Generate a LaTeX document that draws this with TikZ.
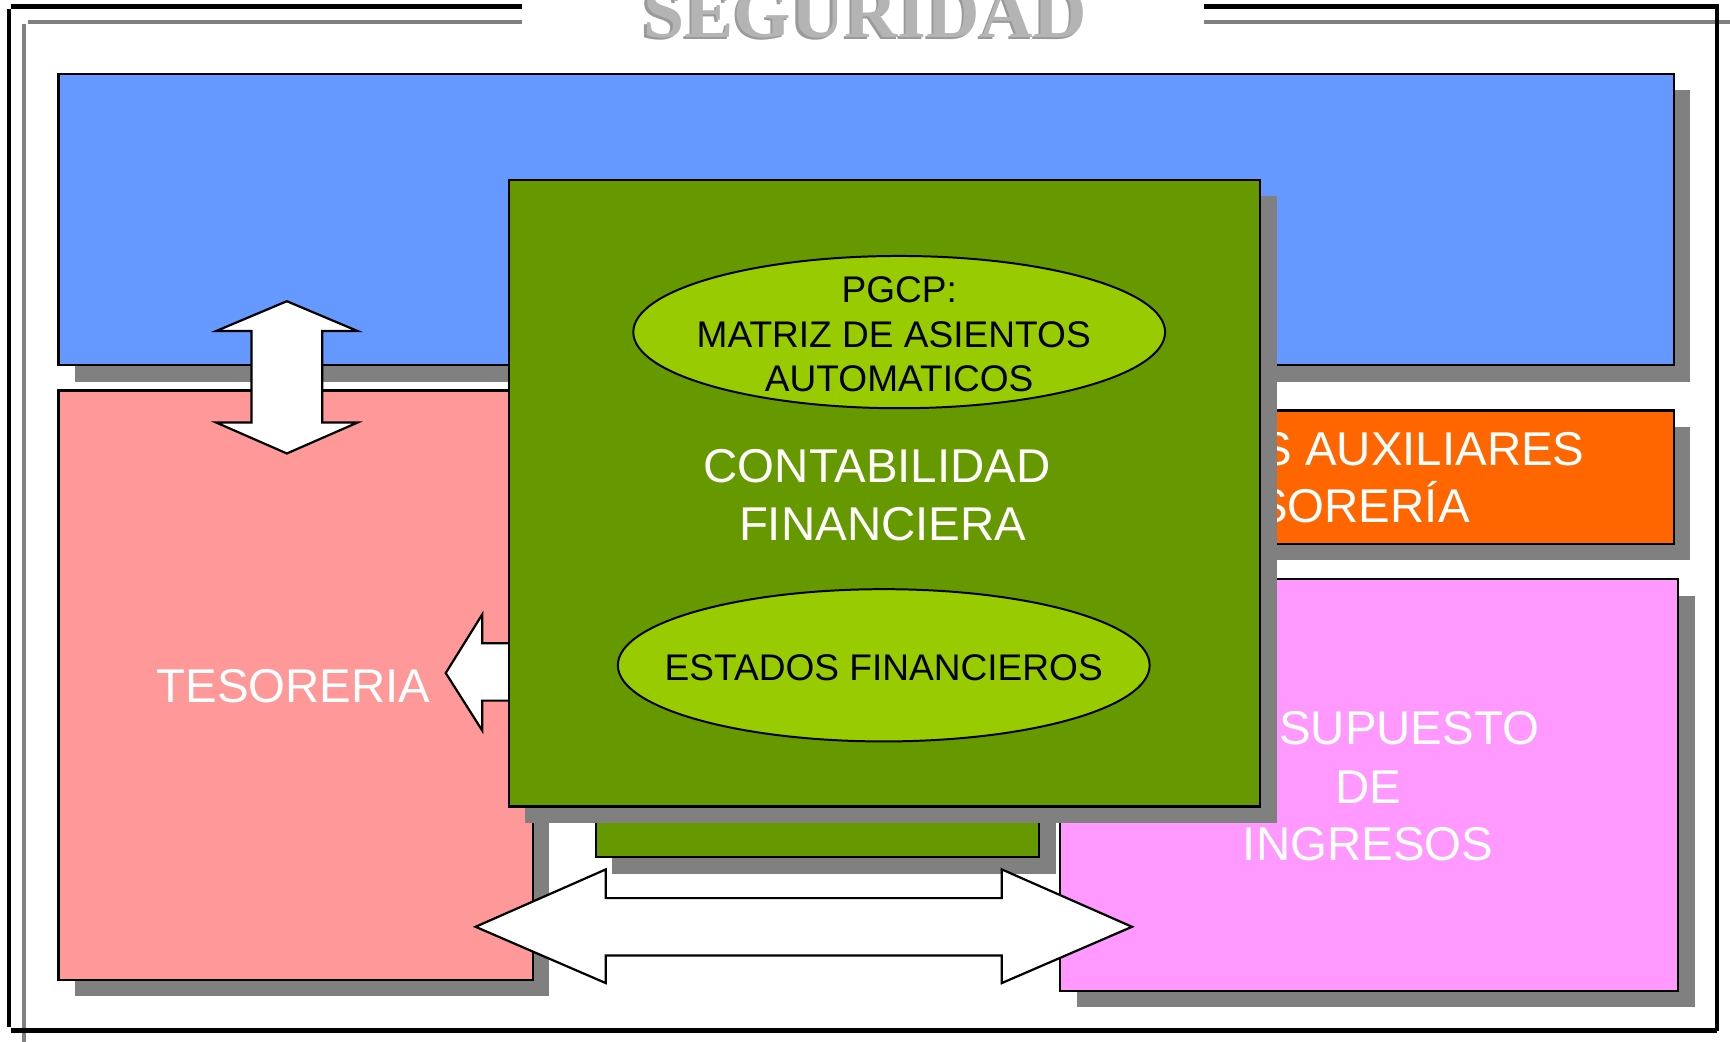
\documentclass[tikz,border=0pt]{standalone}
\usepackage{fontspec}
\setmainfont{Liberation Sans}
\newfontfamily\titlefont{Liberation Serif}
\usetikzlibrary{shapes.geometric,shadows}
\definecolor{boxblue}{HTML}{6699FF}
\definecolor{boxpink}{HTML}{FF9999}
\definecolor{boxorange}{HTML}{FF6600}
\definecolor{boxmagenta}{HTML}{FF99FF}
\definecolor{boxgreen}{HTML}{669900}
\definecolor{ellgreen}{HTML}{99CC00}
\definecolor{shadowgray}{HTML}{808080}
\definecolor{titlegray}{HTML}{B4B4B4}
\definecolor{titleshade}{HTML}{9A9A9A}
\tikzset{
  panel/.style={draw=black, line width=2pt, anchor=north west, inner sep=0pt,
    drop shadow={shadow xshift=15pt, shadow yshift=-15pt, opacity=1, fill=shadowgray}},
  oval/.style={ellipse, draw=black, line width=1.8pt, fill=ellgreen, inner sep=0pt},
  bigtext/.style={text=white, anchor=base, inner sep=0pt, font=\fontsize{43}{53}\selectfont},
  smalltext/.style={text=black, anchor=base, inner sep=0pt, font=\fontsize{33.6}{40}\selectfont},
  blockarrow/.style={fill=white, draw=black, line width=2pt, line join=miter},
  frameblack/.style={draw=black, line width=4pt},
  framegray/.style={draw=shadowgray, line width=4pt}
}
\begin{document}
\begin{tikzpicture}[x=1pt,y=-1pt]
\useasboundingbox (0,0) rectangle (1568,944);
\clip (0,0) rectangle (1568,944);
\fill[white] (0,0) rectangle (1568,944);

% frame (gray offset lines, then black)
\draw[framegray] (25,20) -- (473,20);
\draw[framegray] (1091,20) -- (1570,20);
\draw[framegray] (22,22) -- (22,946);
\draw[frameblack] (473,6) -- (10,6);
\draw[frameblack] (8,8) -- (8,931);
\draw[frameblack] (10,934) -- (1556,934);
\draw[frameblack] (1556,934) -- (1556,8) -- (1556,6) -- (1091,6);

% title
\node[font=\titlefont\bfseries\fontsize{67}{67}\selectfont, text=titleshade, anchor=base, inner sep=0pt] (titleshadow) at (782,35.5) {SEGURIDAD};
\node[font=\titlefont\bfseries\fontsize{67}{67}\selectfont, text=titlegray, anchor=base, inner sep=0pt] (title) at (784,34) {SEGURIDAD};

% panels
\node[panel, fill=boxblue, minimum width=1464pt, minimum height=264pt] (blue) at (52,66) {};
\node[panel, fill=boxpink, minimum width=430pt, minimum height=534pt] (pink) at (52,353) {};
\node[panel, fill=boxorange, minimum width=686pt, minimum height=121pt] (orange) at (830,371) {};
\node[panel, fill=boxmagenta, minimum width=560pt, minimum height=373pt] (magenta) at (960,524) {};

\node[bigtext] (tes) at (266,637) {TESORERIA};
\node[bigtext] (reg1) at (1177,421.5) {REGISTROS AUXILIARES};
\node[bigtext] (reg2) at (1172,474) {DE TESORERÍA};
\node[bigtext] (pre1) at (1233,675) {PRESUPUESTO};
\node[bigtext] (pre2) at (1240,728) {DE};
\node[bigtext] (pre3) at (1240,780) {INGRESOS};

% vertical double arrow
\draw[blockarrow] (260,273) -- (324,300) -- (292,300) -- (292,383) -- (324,383) -- (260,411)
  -- (196,383) -- (228,383) -- (228,300) -- (196,300) -- cycle;
% left arrow
\draw[blockarrow] (404,610) -- (437,557) -- (437,583) -- (470,583) -- (470,635) -- (437,635) -- (437,662) -- cycle;

% green panels
\node[panel, fill=boxgreen, minimum width=402pt, minimum height=300pt] (green2) at (539,476) {};
\node[panel, fill=boxgreen, minimum width=681pt, minimum height=568pt] (green) at (460,162) {};

\node[bigtext] (cont1) at (795,437) {CONTABILIDAD};
\node[bigtext] (cont2) at (800,490) {FINANCIERA};

\node[oval, minimum width=482pt, minimum height=138pt] (pgcp) at (815,301) {};
\node[smalltext] (p1) at (815,274) {PGCP:};
\node[smalltext] (p2) at (810,315) {MATRIZ DE ASIENTOS};
\node[smalltext] (p3) at (815,355) {AUTOMATICOS};

\node[oval, minimum width=482pt, minimum height=138pt] (estados) at (801,603) {};
\node[smalltext] (e1) at (801,617) {ESTADOS FINANCIEROS};

% horizontal double arrow
\draw[blockarrow] (431,840) -- (549,788) -- (549,814) -- (908,814) -- (908,788) -- (1026,840)
  -- (908,891) -- (908,866) -- (549,866) -- (549,891) -- cycle;
\end{tikzpicture}
\end{document}
